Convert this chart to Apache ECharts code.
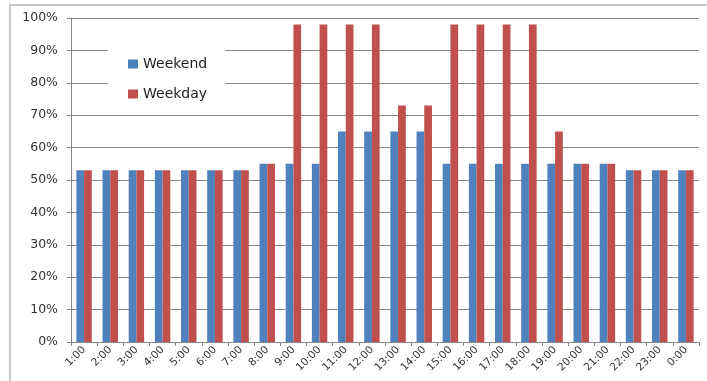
<!DOCTYPE html>
<html>
<head>
<meta charset="utf-8">
<script src="https://cdn.jsdelivr.net/npm/echarts@6/dist/echarts.min.js"></script>
<style>
  html, body { margin: 0; padding: 0; background: #fff; }
  #chart { width: 707px; height: 381px; }
</style>
</head>
<body>
<div id="chart"></div>
<script>
// Hourly occupancy, weekend vs weekday (percent)
const hours = ['1:00','2:00','3:00','4:00','5:00','6:00','7:00','8:00','9:00','10:00','11:00','12:00',
               '13:00','14:00','15:00','16:00','17:00','18:00','19:00','20:00','21:00','22:00','23:00','0:00'];
const weekend = [53,53,53,53,53,53,53,55,55,55,65,65,65,65,55,55,55,55,55,55,55,53,53,53];
const weekday = [53,53,53,53,53,53,53,55,98,98,98,98,73,73,98,98,98,98,65,55,55,53,53,53];
const yTicks = [0,10,20,30,40,50,60,70,80,90,100];

const chart = echarts.init(document.getElementById('chart'));
const font = 'DejaVu Sans, Verdana, sans-serif';
chart.setOption({
  animation: false,
  backgroundColor: '#fff',
  graphic: [{
    type: 'rect',
    shape: { x: 10, y: 5, width: 720, height: 400 },
    style: { fill: 'none', stroke: '#b8b8b8', lineWidth: 1.5 },
    silent: true
  }],
  grid: { left: 71, right: 8, top: 18, bottom: 39 },
  legend: {
    orient: 'vertical',
    left: 108,
    top: 50,
    icon: 'rect',
    itemWidth: 10,
    itemHeight: 9,
    itemGap: 16,
    padding: [7, 18, 7, 20],
    backgroundColor: '#fff',
    textStyle: { fontFamily: font, fontSize: 14, color: '#222' },
    data: ['Weekend', 'Weekday']
  },
  xAxis: {
    type: 'category',
    data: hours,
    axisLine: { lineStyle: { color: '#888' } },
    axisTick: { show: true, length: 4, lineStyle: { color: '#888' } },
    axisLabel: { rotate: 45, interval: 0, fontFamily: font, fontSize: 10.5, color: '#333', margin: 6 }
  },
  yAxis: {
    type: 'value',
    min: 0, max: 100, interval: 10,
    axisLine: { show: true, lineStyle: { color: '#888' } },
    axisTick: { show: true, length: 4, lineStyle: { color: '#888' } },
    splitLine: { lineStyle: { color: '#8a8a8a' } },
    axisLabel: {
      fontFamily: font, fontSize: 12.5, color: '#333', margin: 13,
      formatter: v => (yTicks.includes(v) ? v + '%' : '')
    }
  },
  series: [
    { name: 'Weekend', type: 'bar', data: weekend, barGap: '0%', barCategoryGap: '41%',
      itemStyle: { color: '#4F81BD' } },
    { name: 'Weekday', type: 'bar', data: weekday, barGap: '0%', barCategoryGap: '41%',
      itemStyle: { color: '#C0504D' } }
  ]
});
</script>
</body>
</html>
